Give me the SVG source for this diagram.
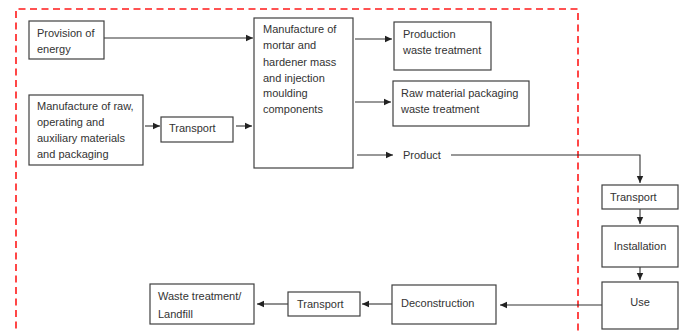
<svg xmlns="http://www.w3.org/2000/svg" width="683" height="331" viewBox="0 0 683 331">
<style>
.box{fill:#fff;stroke:#404040;stroke-width:1.2}
.t{font-family:"Liberation Sans",Arial,sans-serif;font-size:11px;fill:#333}
.c{stroke:#333;stroke-width:1.1;fill:none}
.frame{fill:none;stroke:#ff1a1a;stroke-width:1.6;stroke-dasharray:7,4.5}
</style>
<defs>
<marker id="ah" markerWidth="8" markerHeight="8" refX="7" refY="4" orient="auto" markerUnits="userSpaceOnUse">
<path d="M0,0.8 L7,4 L0,7.2 Z" fill="#222"/>
</marker>
</defs>
<rect width="683" height="331" fill="#fff"/>
<path class="frame" d="M16,340 L16,9 L578,9 L578,340"/>
<g id="connectors">
<path class="c" d="M104,38 L253,38" marker-end="url(#ah)"/>
<path class="c" d="M145,126 L160,126" marker-end="url(#ah)"/>
<path class="c" d="M236,126 L252,126" marker-end="url(#ah)"/>
<path class="c" d="M355,39 L392,39" marker-end="url(#ah)"/>
<path class="c" d="M355,102 L391,102" marker-end="url(#ah)"/>
<path class="c" d="M357,155 L393,155" marker-end="url(#ah)"/>
<path class="c" d="M451,155 L640,155 L640,183" marker-end="url(#ah)"/>
<path class="c" d="M640,209 L640,224" marker-end="url(#ah)"/>
<path class="c" d="M640,267 L640,280" marker-end="url(#ah)"/>
<path class="c" d="M602,305 L500,305" marker-end="url(#ah)"/>
<path class="c" d="M392,304 L362,304" marker-end="url(#ah)"/>
<path class="c" d="M288,304 L257,304" marker-end="url(#ah)"/>
</g>
<g id="energy"><rect class="box" x="29" y="21" width="75" height="38"/><text class="t" x="37" y="37">Provision of</text><text class="t" x="37" y="53">energy</text></g>
<g id="rawmat"><rect class="box" x="29" y="95" width="114" height="70"/><text class="t" x="37" y="110">Manufacture of raw,</text><text class="t" x="37" y="126">operating and</text><text class="t" x="37" y="142">auxiliary materials</text><text class="t" x="37" y="158">and packaging</text></g>
<g id="transport1"><rect class="box" x="161" y="117" width="72" height="25"/><text class="t" x="169" y="132">Transport</text></g>
<g id="manufacture"><rect class="box" x="254" y="18" width="99" height="150"/><text class="t" x="263" y="33">Manufacture of</text><text class="t" x="263" y="49">mortar and</text><text class="t" x="263" y="66">hardener mass</text><text class="t" x="263" y="82">and injection</text><text class="t" x="263" y="97">moulding</text><text class="t" x="263" y="113">components</text></g>
<g id="prodwaste"><rect class="box" x="394" y="22" width="97" height="48"/><text class="t" x="403" y="38">Production</text><text class="t" x="403" y="54">waste treatment</text></g>
<g id="packwaste"><rect class="box" x="393" y="81" width="136" height="45"/><text class="t" x="401" y="97">Raw material packaging</text><text class="t" x="401" y="113">waste treatment</text></g>
<g id="product"><text class="t" x="403" y="159">Product</text></g>
<g id="transport2"><rect class="box" x="602" y="185" width="76" height="24"/><text class="t" x="610" y="201">Transport</text></g>
<g id="installation"><rect class="box" x="602" y="226" width="76" height="41"/><text class="t" x="640" y="250" text-anchor="middle">Installation</text></g>
<g id="use"><rect class="box" x="602" y="282" width="76" height="47"/><text class="t" x="640" y="306" text-anchor="middle">Use</text></g>
<g id="deconstruction"><rect class="box" x="392" y="285" width="104" height="39"/><text class="t" x="401" y="307">Deconstruction</text></g>
<g id="transport3"><rect class="box" x="288" y="292" width="72" height="24"/><text class="t" x="297" y="308">Transport</text></g>
<g id="landfill"><rect class="box" x="150" y="284" width="104" height="40"/><text class="t" x="158" y="300">Waste treatment/</text><text class="t" x="158" y="318">Landfill</text></g>
</svg>
